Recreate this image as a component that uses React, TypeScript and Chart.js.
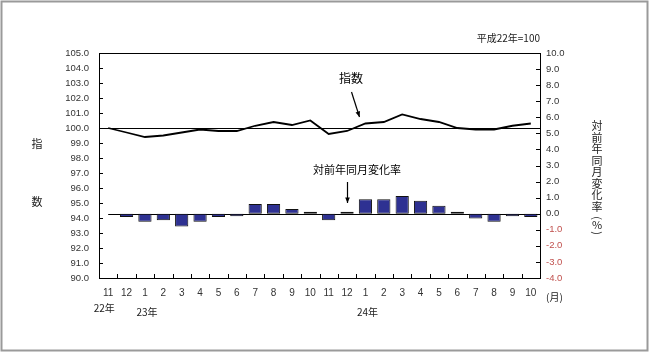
import React, { useEffect, useRef } from "react";
import { Chart, registerables } from "chart.js";

Chart.register(...registerables);

const categories = ["11","12","1","2","3","4","5","6","7","8","9","10","11","12","1","2","3","4","5","6","7","8","9","10"];
const indexValues = [100.0, 99.7, 99.4, 99.5, 99.7, 99.9, 99.8, 99.8, 100.15, 100.4, 100.2, 100.5, 99.6, 99.8, 100.3, 100.4, 100.9, 100.6, 100.4, 100.0, 99.9, 99.9, 100.15, 100.3];
const changeValues = [0.0, -0.2, -0.5, -0.4, -0.8, -0.5, -0.2, -0.15, 0.6, 0.6, 0.3, 0.12, -0.4, 0.12, 0.9, 0.9, 1.1, 0.8, 0.5, 0.12, -0.3, -0.5, -0.15, -0.2];
const yearLabels = [
  { text: "22年", index: 0, dy: 30 },
  { text: "23年", index: 2, dy: 34 },
  { text: "24年", index: 14, dy: 34 },
];
const rightTitle = ["対", "前", "年", "同", "月", "変", "化", "率", "(", "%", ")"];

const NUM_FONT = "'Liberation Sans', Arial, sans-serif";
const JP_FONT = "'Noto Sans CJK JP', sans-serif";

function arrow(ctx: CanvasRenderingContext2D, x1: number, y1: number, x2: number, y2: number) {
  ctx.beginPath();
  ctx.moveTo(x1, y1);
  ctx.lineTo(x2, y2);
  ctx.stroke();
  const a = Math.atan2(y2 - y1, x2 - x1);
  const L = 6, W = 0.4;
  ctx.beginPath();
  ctx.moveTo(x2, y2);
  ctx.lineTo(x2 - L * Math.cos(a - W), y2 - L * Math.sin(a - W));
  ctx.lineTo(x2 - L * Math.cos(a + W), y2 - L * Math.sin(a + W));
  ctx.closePath();
  ctx.fill();
}

const decor = {
  id: "decor",
  beforeDatasetsDraw(chart: any) {
    const { ctx, chartArea, scales } = chart;
    ctx.save();
    ctx.strokeStyle = "#000";
    ctx.lineWidth = 1;
    const y100 = Math.round(scales.y.getPixelForValue(100)) + 0.5;
    ctx.beginPath();
    ctx.moveTo(chartArea.left, y100);
    ctx.lineTo(chartArea.right, y100);
    ctx.stroke();
    const y0 = Math.round(scales.y1.getPixelForValue(0)) + 0.5;
    ctx.beginPath();
    ctx.moveTo(scales.x.getPixelForValue(0), y0);
    ctx.lineTo(chartArea.right, y0);
    ctx.stroke();
    ctx.restore();
  },
  afterDraw(chart: any) {
    const { ctx, chartArea, scales } = chart;
    const { left, right, top, bottom } = chartArea;
    ctx.save();
    ctx.strokeStyle = "#000";
    ctx.lineWidth = 1;
    ctx.strokeRect(Math.round(left) + 0.5, Math.round(top) + 0.5, Math.round(right - left), Math.round(bottom - top));
    // inner ticks
    ctx.beginPath();
    for (let v = 90; v <= 105; v++) {
      const y = Math.round(scales.y.getPixelForValue(v)) + 0.5;
      ctx.moveTo(left, y);
      ctx.lineTo(left + 4, y);
    }
    for (let v = -4; v <= 10; v++) {
      const y = Math.round(scales.y1.getPixelForValue(v)) + 0.5;
      ctx.moveTo(right, y);
      ctx.lineTo(right - 4, y);
    }
    const n = categories.length;
    const step = (right - left) / n;
    for (let i = 1; i < n; i++) {
      const x = Math.round(left + step * i) + 0.5;
      ctx.moveTo(x, bottom);
      ctx.lineTo(x, bottom - 4);
    }
    ctx.stroke();

    ctx.fillStyle = "#222";
    ctx.textBaseline = "middle";
    // base note
    ctx.font = `10px ${JP_FONT}`;
    ctx.textAlign = "right";
    ctx.fillText("平成22年=100", 540, 38);
    // left title
    ctx.textAlign = "center";
    ctx.font = `11px ${JP_FONT}`;
    ctx.fillText("指", 37, 144);
    ctx.fillText("数", 37, 202);
    // right vertical title
    const ys = [126, 138, 149, 161, 172, 184, 195, 207, 218, 225, 233];
    rightTitle.forEach((c, i) => {
      const y = ys[i];
      if (c === "(" || c === ")") {
        ctx.save();
        ctx.translate(597, y);
        ctx.rotate(Math.PI / 2);
        ctx.fillText(c, 0, 0);
        ctx.restore();
      } else {
        ctx.fillText(c, 597, y);
      }
    });
    // month unit
    ctx.textAlign = "left";
    ctx.font = `10px ${JP_FONT}`;
    ctx.fillText("(月)", 546, 297);
    // years
    ctx.textAlign = "center";
    yearLabels.forEach((yl) => {
      ctx.fillText(yl.text, scales.x.getPixelForValue(yl.index) - 2 + (yl.index === 0 ? -2 : 4), bottom + yl.dy);
    });
    // annotations
    ctx.font = `12px ${JP_FONT}`;
    ctx.fillStyle = "#000";
    ctx.fillText("指数", 351, 78);
    ctx.font = `11px ${JP_FONT}`;
    ctx.fillText("対前年同月変化率", 357, 170);
    ctx.lineWidth = 1.2;
    arrow(ctx, 351.5, 92, 359.5, 117);
    arrow(ctx, 347.5, 182, 347.5, 203);
    // outer frame
    ctx.strokeStyle = "#9a9a9a";
    ctx.lineWidth = 2;
    ctx.strokeRect(1.5, 1.5, 646, 349);
    ctx.restore();
  },
};

export default function App() {
  const ref = useRef<HTMLCanvasElement | null>(null);
  useEffect(() => {
    document.body.style.margin = "0";
    const canvas = ref.current;
    if (!canvas) return;
    const chart = new Chart(canvas, {
      type: "bar",
      data: {
        labels: categories,
        datasets: [
          {
            type: "line",
            label: "指数",
            data: indexValues,
            yAxisID: "y",
            borderColor: "#000",
            borderWidth: 1.8,
            pointRadius: 0,
            tension: 0,
            order: 0,
          } as any,
          {
            type: "bar",
            label: "対前年同月変化率",
            data: changeValues,
            yAxisID: "y1",
            backgroundColor: "#2E3192",
            borderColor: "#111",
            borderWidth: 1,
            borderSkipped: false,
            categoryPercentage: 1,
            barPercentage: 0.72,
            order: 1,
          } as any,
        ],
      },
      options: {
        responsive: false,
        animation: false,
        layout: { padding: { top: 53, left: 0, right: 0, bottom: 0 } },
        plugins: { legend: { display: false }, tooltip: { enabled: false } },
        scales: {
          x: {
            grid: { display: false, drawTicks: false },
            border: { display: false },
            ticks: { color: "#333", font: { family: NUM_FONT, size: 10 }, padding: 9, maxRotation: 0, autoSkip: false },
            afterFit: (s: any) => { s.height = 75; },
          },
          y: {
            position: "left",
            min: 90,
            max: 105,
            grid: { display: false, drawTicks: false },
            border: { display: false },
            ticks: { stepSize: 1, color: "#333", font: { family: NUM_FONT, size: 9.5 }, padding: 10, callback: (v: any) => Number(v).toFixed(1) },
            afterFit: (s: any) => { s.width = 99; },
          },
          y1: {
            position: "right",
            min: -4,
            max: 10,
            grid: { display: false, drawTicks: false },
            border: { display: false },
            ticks: {
              stepSize: 1,
              color: (c: any) => (c.tick && c.tick.value < 0 ? "#C0504D" : "#333"),
              font: { family: NUM_FONT, size: 9.5 },
              padding: 6,
              callback: (v: any) => Number(v).toFixed(1),
            },
            afterFit: (s: any) => { s.width = 110; },
          },
        },
      },
      plugins: [decor],
    });
    return () => chart.destroy();
  }, []);
  return (
    <div style={{ position: "absolute", left: 0, top: 0, width: 650, height: 353 }}>
      <canvas ref={ref} width={650} height={353} style={{ width: 650, height: 353 }} />
    </div>
  );
}
